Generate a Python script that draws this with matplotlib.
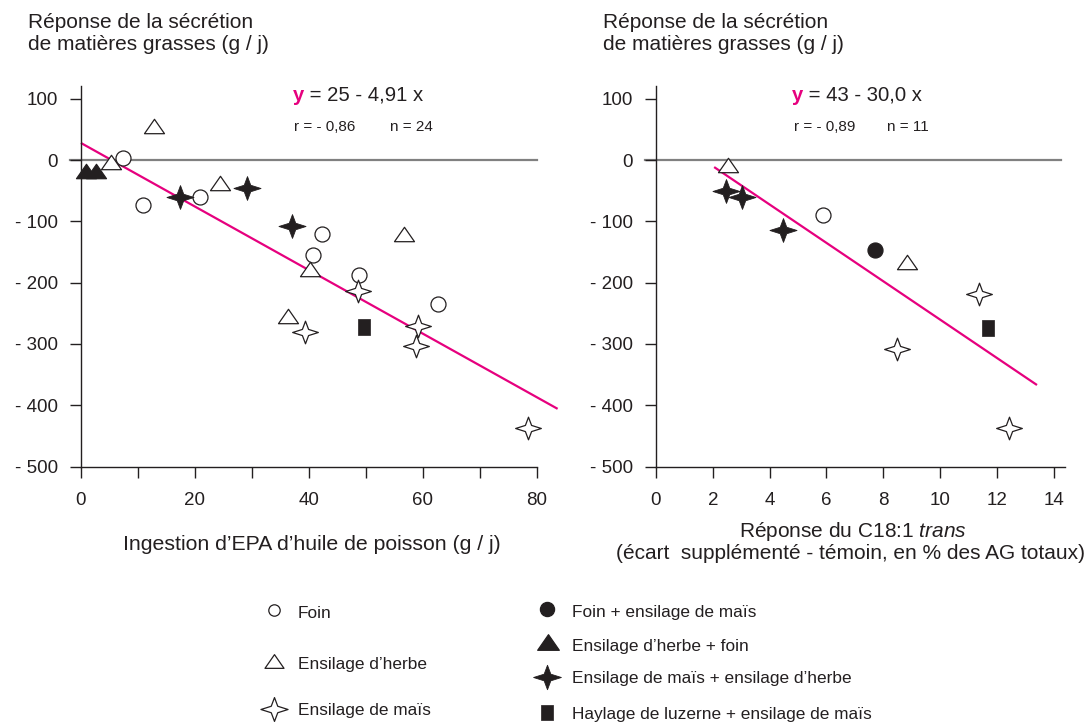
import matplotlib
matplotlib.use('Agg')
import matplotlib.pyplot as plt
from matplotlib.path import Path

plt.rcParams['font.family'] = ['Liberation Sans', 'DejaVu Sans']
plt.rcParams['mathtext.fontset'] = 'custom'
plt.rcParams['mathtext.rm'] = 'Liberation Sans'
plt.rcParams['mathtext.it'] = 'Liberation Sans:italic'

INK = '#231f20'
MAGENTA = '#e6007e'

# ---- left panel: EPA intake (g/j) vs fat secretion response (g/j)
epa_foin_x = [7.5, 10.9, 21.0, 42.3, 40.8, 48.9, 62.6]
epa_foin_y = [3, -73, -61, -120, -155, -188, -235]
epa_herbe_x = [12.8, 5.3, 24.5, 56.8, 40.3, 36.3]
epa_herbe_y = [55, -3, -38, -121, -177, -254]
epa_herbe_foin_x = [1.0, 2.6]
epa_herbe_foin_y = [-18, -18]
epa_mais_herbe_x = [17.4, 29.1, 37.0]
epa_mais_herbe_y = [-61, -45, -107]
epa_mais_x = [48.7, 39.4, 59.1, 58.8, 78.5]
epa_mais_y = [-214, -280, -271, -303, -437]
epa_luzerne_x = [49.7]
epa_luzerne_y = [-272]
epa_fit_x = [0.2, 83.5]
epa_fit_y = [27, -405]

# ---- right panel: C18:1 trans response (% AG) vs fat secretion response
trans_foin_x = [5.87]
trans_foin_y = [-89]
trans_foin_mais_x = [7.71]
trans_foin_mais_y = [-146]
trans_herbe_x = [2.55, 8.83]
trans_herbe_y = [-8, -166]
trans_mais_herbe_x = [2.46, 3.02, 4.46]
trans_mais_herbe_y = [-51, -60, -114]
trans_mais_x = [11.36, 8.5, 12.42]
trans_mais_y = [-218, -309, -437]
trans_luzerne_x = [11.68]
trans_luzerne_y = [-274]
trans_fit_x = [2.08, 13.38]
trans_fit_y = [-12.5, -366]

y_ticks = [100, 0, -100, -200, -300, -400, -500]
y_ticklabels = ['100', '0', '- 100', '- 200', '- 300', '- 400', '- 500']


def star4(h=1.0, v=0.88, a=0.24):
    verts = [(0, v), (a, a), (h, 0), (a, -a), (0, -v), (-a, -a), (-h, 0), (-a, a), (0, v)]
    return Path(verts, [Path.MOVETO] + [Path.LINETO] * 7 + [Path.CLOSEPOLY])


TRI = Path([(-1, -0.72), (1, -0.72), (0, 0.72), (-1, -0.72)],
           [Path.MOVETO, Path.LINETO, Path.LINETO, Path.CLOSEPOLY])
RECT = Path([(-0.76, -1), (0.76, -1), (0.76, 1), (-0.76, 1), (-0.76, -1)],
            [Path.MOVETO, Path.LINETO, Path.LINETO, Path.LINETO, Path.CLOSEPOLY])
STAR = star4()

styles = {
    'foin': dict(marker='o', ms=10.8, mfc='white', mec=INK, mew=0.9),
    'foin_mais': dict(marker='o', ms=10.8, mfc=INK, mec=INK, mew=0.9),
    'herbe': dict(marker=TRI, ms=14.4, mfc='white', mec=INK, mew=0.9),
    'herbe_foin': dict(marker=TRI, ms=14.4, mfc=INK, mec=INK, mew=0.9),
    'mais_herbe': dict(marker=STAR, ms=19.5, mfc=INK, mec=INK, mew=0.6),
    'mais': dict(marker=STAR, ms=18.5, mfc='white', mec=INK, mew=0.9),
    'luzerne': dict(marker=RECT, ms=11.5, mfc=INK, mec=INK, mew=0.5),
}
# legend symbols are drawn a little smaller for some keys
legend_ms = {'foin': 8.2, 'foin_mais': 10.2, 'herbe': 13.7, 'herbe_foin': 15.6,
             'mais': 19.5, 'mais_herbe': 20, 'luzerne': 10.8}


def pts(ax, x, y, key):
    ax.plot(x, y, ls='none', zorder=4, clip_on=False, **styles[key])


def setup(ax, xlim, xbound, xticks, xlabels, minor=None):
    ax.set_xlim(*xlim)
    ax.set_ylim(-500, 125)
    for s in ['top', 'right']:
        ax.spines[s].set_visible(False)
    for s in ['left', 'bottom']:
        ax.spines[s].set_color(INK)
        ax.spines[s].set_linewidth(1.0)
    ax.spines['left'].set_position(('data', 0))
    ax.spines['left'].set_bounds(-500, 120)
    ax.spines['bottom'].set_bounds(*xbound)
    ax.set_yticks(y_ticks)
    ax.set_yticklabels(y_ticklabels)
    ax.set_xticks(xticks)
    ax.set_xticklabels(xlabels)
    if minor is not None:
        ax.set_xticks(minor, minor=True)
    ax.tick_params(axis='both', which='both', direction='out', color=INK,
                   labelcolor=INK, labelsize=13.5, width=1.0)
    ax.tick_params(axis='y', length=8.2, pad=8.2)
    ax.tick_params(axis='x', which='both', length=8.2, pad=10.5)
    ax.patch.set_alpha(0)


fig = plt.figure(figsize=(10.9, 7.26), dpi=100)
W, H = 1090.0, 726.0

# overlay for texts / legend in pixel coordinates
leg = fig.add_axes([0, 0, 1, 1])
leg.set_xlim(0, W)
leg.set_ylim(H, 0)
leg.axis('off')

# left
ax1 = fig.add_axes([0.0636, 0.3574, 0.4497, 0.5277])
setup(ax1, (-2, 84), (0, 80), [0, 20, 40, 60, 80], ['0', '20', '40', '60', '80'],
      minor=[10, 30, 50, 70])
ax1.plot([-1.9, 80.0], [0, 0], color='#808080', lw=1.6, zorder=1, clip_on=False)
ax1.plot(epa_fit_x, epa_fit_y, color=MAGENTA, lw=1.6, zorder=2, clip_on=False)
pts(ax1, epa_foin_x, epa_foin_y, 'foin')
pts(ax1, epa_herbe_x, epa_herbe_y, 'herbe')
pts(ax1, epa_herbe_foin_x, epa_herbe_foin_y, 'herbe_foin')
pts(ax1, epa_mais_herbe_x, epa_mais_herbe_y, 'mais_herbe')
pts(ax1, epa_mais_x, epa_mais_y, 'mais')
pts(ax1, epa_luzerne_x, epa_luzerne_y, 'luzerne')

# right
ax2 = fig.add_axes([0.5914, 0.3574, 0.3857, 0.5277])
setup(ax2, (-0.4, 14.4), (0, 14.4), list(range(0, 15, 2)),
      [str(v) for v in range(0, 15, 2)])
ax2.plot([-0.39, 14.26], [0, 0], color='#808080', lw=1.6, zorder=1, clip_on=False)
ax2.plot(trans_fit_x, trans_fit_y, color=MAGENTA, lw=1.6, zorder=2, clip_on=False)
pts(ax2, trans_foin_x, trans_foin_y, 'foin')
pts(ax2, trans_foin_mais_x, trans_foin_mais_y, 'foin_mais')
pts(ax2, trans_herbe_x, trans_herbe_y, 'herbe')
pts(ax2, trans_mais_herbe_x, trans_mais_herbe_y, 'mais_herbe')
pts(ax2, trans_mais_x, trans_mais_y, 'mais')
pts(ax2, trans_luzerne_x, trans_luzerne_y, 'luzerne')


def ltext(px, py, s, **kw):
    kw.setdefault('color', INK)
    kw.setdefault('fontsize', 15)
    kw.setdefault('va', 'baseline')
    return leg.text(px, py, s, **kw)


# axis titles
for x0 in (28.5, 603):
    ltext(x0, 28.3, 'Réponse de la sécrétion')
    ltext(x0, 50, 'de matières grasses (g / j)')

ltext(311.7, 550, 'Ingestion d\u2019EPA d\u2019huile de poisson (g / j)', ha='center', fontsize=15.3)
ltext(852.5, 537, 'Réponse du C18:1 $\\mathit{trans}$', ha='center')
ltext(850, 559, '(écart  supplémenté - témoin, en % des AG totaux)', ha='center')

# regression equations
for x0, eq, r, n, nx in [(293, ' = 25 - 4,91 x', 'r = - 0,86', 'n = 24', 390),
                         (792, ' = 43 - 30,0 x', 'r = - 0,89', 'n = 11', 887)]:
    t = ltext(x0, 100.7, 'y', color=MAGENTA, fontweight='bold', fontsize=14.6)
    leg.annotate(eq, xy=(1, 0), xycoords=t, va='bottom', fontsize=14.6, color=INK)
    ltext(x0 + 1.5, 130.7, r, fontsize=11)
    ltext(nx, 130.7, n, fontsize=11)

# legend
legend_items = [
    (273.5, 610, 613, 'foin', 'Foin'),
    (273.5, 661, 664, 'herbe', 'Ensilage d\u2019herbe'),
    (273.5, 709, 711, 'mais', 'Ensilage de maïs'),
    (547, 609, 612, 'foin_mais', 'Foin + ensilage de maïs'),
    (547.5, 642, 647, 'herbe_foin', 'Ensilage d\u2019herbe + foin'),
    (547, 677, 678, 'mais_herbe', 'Ensilage de maïs + ensilage d\u2019herbe'),
    (547, 712, 714, 'luzerne', 'Haylage de luzerne + ensilage de maïs'),
]
for lx, ly, ty, key, label in legend_items:
    st = dict(styles[key])
    st['ms'] = legend_ms[key]
    leg.plot([lx], [ly], ls='none', clip_on=False, **st)
    leg.text(lx + 24.5, ty, label, fontsize=12.4, color=INK, va='center')

fig.savefig('out.png', dpi=100)
